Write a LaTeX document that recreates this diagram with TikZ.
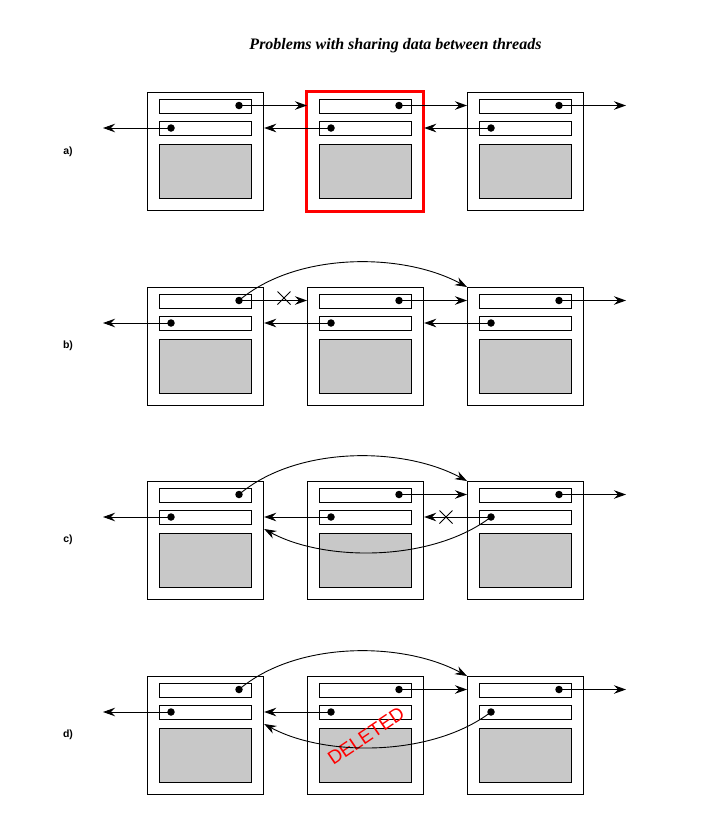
\documentclass[tikz,border=0pt]{standalone}
\usepackage{fontspec}
\setmainfont{Liberation Serif}
\newfontfamily\arialf{Liberation Sans}
\usetikzlibrary{arrows.meta,shapes.misc,calc}
\definecolor{datagrey}{RGB}{200,200,200}
\tikzset{
  outer/.style={draw, line width=1.2pt, minimum width=116pt, minimum height=118pt, inner sep=0pt, anchor=north west},
  field/.style={draw, line width=1pt, fill=white, minimum width=92pt, minimum height=13.5pt, inner sep=0pt, anchor=north west},
  databox/.style={draw, line width=1pt, fill=datagrey, minimum width=92pt, minimum height=54pt, inner sep=0pt, anchor=north west},
  dotn/.style={circle, fill=black, inner sep=0pt, minimum size=7.5pt},
  link/.style={line width=0.9pt, -{Stealth[length=12pt,width=8.5pt,inset=4pt]}},
  xmark/.style={draw, cross out, line width=1pt, minimum size=12pt, inner sep=0pt},
  rowlabel/.style={font=\arialf\bfseries\fontsize{10.5}{12}\selectfont},
}
\newcommand\listnode[3]{%
  \node[outer] (#1) at (#2,#3) {};
  \node[field] (#1t) at (#2+12,#3+7) {};
  \node[field] (#1p) at (#2+12,#3+29) {};
  \node[databox] (#1d) at (#2+12,#3+52) {};
  \node[dotn] (#1nd) at (#2+92,#3+13.5) {};
  \node[dotn] (#1pd) at (#2+24,#3+36) {};
}
\begin{document}
\begin{tikzpicture}[x=1pt,y=-1pt]
\useasboundingbox (0,0) rectangle (720,817);
\node[font=\bfseries\itshape\fontsize{16}{19}\selectfont] (title) at (395.5,46) {Problems with sharing data between threads};

% ---------- row a ----------
\listnode{a1}{147}{92}
\listnode{a2}{307}{92}
\listnode{a3}{467}{92}
\draw[red, line width=3pt] (306,91) rectangle (423,211);
\coordinate (aleft) at (103,128);
\coordinate (aright) at (626,105.5);
\draw[link] (a1nd.center) -- (a1nd.center -| a2.west);
\draw[link] (a2nd.center) -- (a2nd.center -| a3.west);
\draw[link] (a3nd.center) -- (aright);
\draw[link] (a1pd.center) -- (aleft);
\draw[link] (a2pd.center) -- (a2pd.center -| a1.east);
\draw[link] (a3pd.center) -- (a3pd.center -| a2.east);
\node[rowlabel] (la) at (68,152) {a)};

% ---------- row b ----------
\listnode{b1}{147}{287}
\listnode{b2}{307}{287}
\listnode{b3}{467}{287}
\coordinate (bleft) at (103,323);
\coordinate (bright) at (626,300.5);
\draw[link] (b1nd.center) -- (b1nd.center -| b2.west);
\node[xmark] (bx) at (284,298) {};
\draw[link] (b1nd.center) .. controls (296,252) and (402,252) .. (b3.north west);
\draw[link] (b2nd.center) -- (b2nd.center -| b3.west);
\draw[link] (b3nd.center) -- (bright);
\draw[link] (b1pd.center) -- (bleft);
\draw[link] (b2pd.center) -- (b2pd.center -| b1.east);
\draw[link] (b3pd.center) -- (b3pd.center -| b2.east);
\node[rowlabel] (lb) at (68,346) {b)};

% ---------- row c ----------
\listnode{c1}{147}{481}
\listnode{c2}{307}{481}
\listnode{c3}{467}{481}
\coordinate (cleft) at (103,517);
\coordinate (cright) at (626,494.5);
\draw[link] (c1nd.center) .. controls (296,446) and (402,446) .. (c3.north west);
\draw[link] (c2nd.center) -- (c2nd.center -| c3.west);
\draw[link] (c3nd.center) -- (cright);
\draw[link] (c1pd.center) -- (cleft);
\draw[link] (c2pd.center) -- (c2pd.center -| c1.east);
\draw[link] (c3pd.center) -- (c3pd.center -| c2.east);
\node[xmark] (cx) at (446,517) {};
\draw[link] (c3pd.center) .. controls (432,562) and (325,562) .. ($(c1.north east)+(0,48)$);
\node[rowlabel] (lc) at (68,540) {c)};

% ---------- row d ----------
\listnode{d1}{147}{676}
\listnode{d2}{307}{676}
\listnode{d3}{467}{676}
\coordinate (dleft) at (103,712);
\coordinate (dright) at (626,689.5);
\node[red, rotate=34, font=\arialf\fontsize{19}{22}\selectfont, inner sep=0pt] (del) at (366,736) {DELETED};
\draw[link] (d1nd.center) .. controls (296,641) and (402,641) .. (d3.north west);
\draw[link] (d2nd.center) -- (d2nd.center -| d3.west);
\draw[link] (d3nd.center) -- (dright);
\draw[link] (d1pd.center) -- (dleft);
\draw[link] (d2pd.center) -- (d2pd.center -| d1.east);
\draw[link] (d3pd.center) .. controls (432,757) and (325,757) .. ($(d1.north east)+(0,48)$);
\node[rowlabel] (ld) at (68,735) {d)};
\end{tikzpicture}
\end{document}
